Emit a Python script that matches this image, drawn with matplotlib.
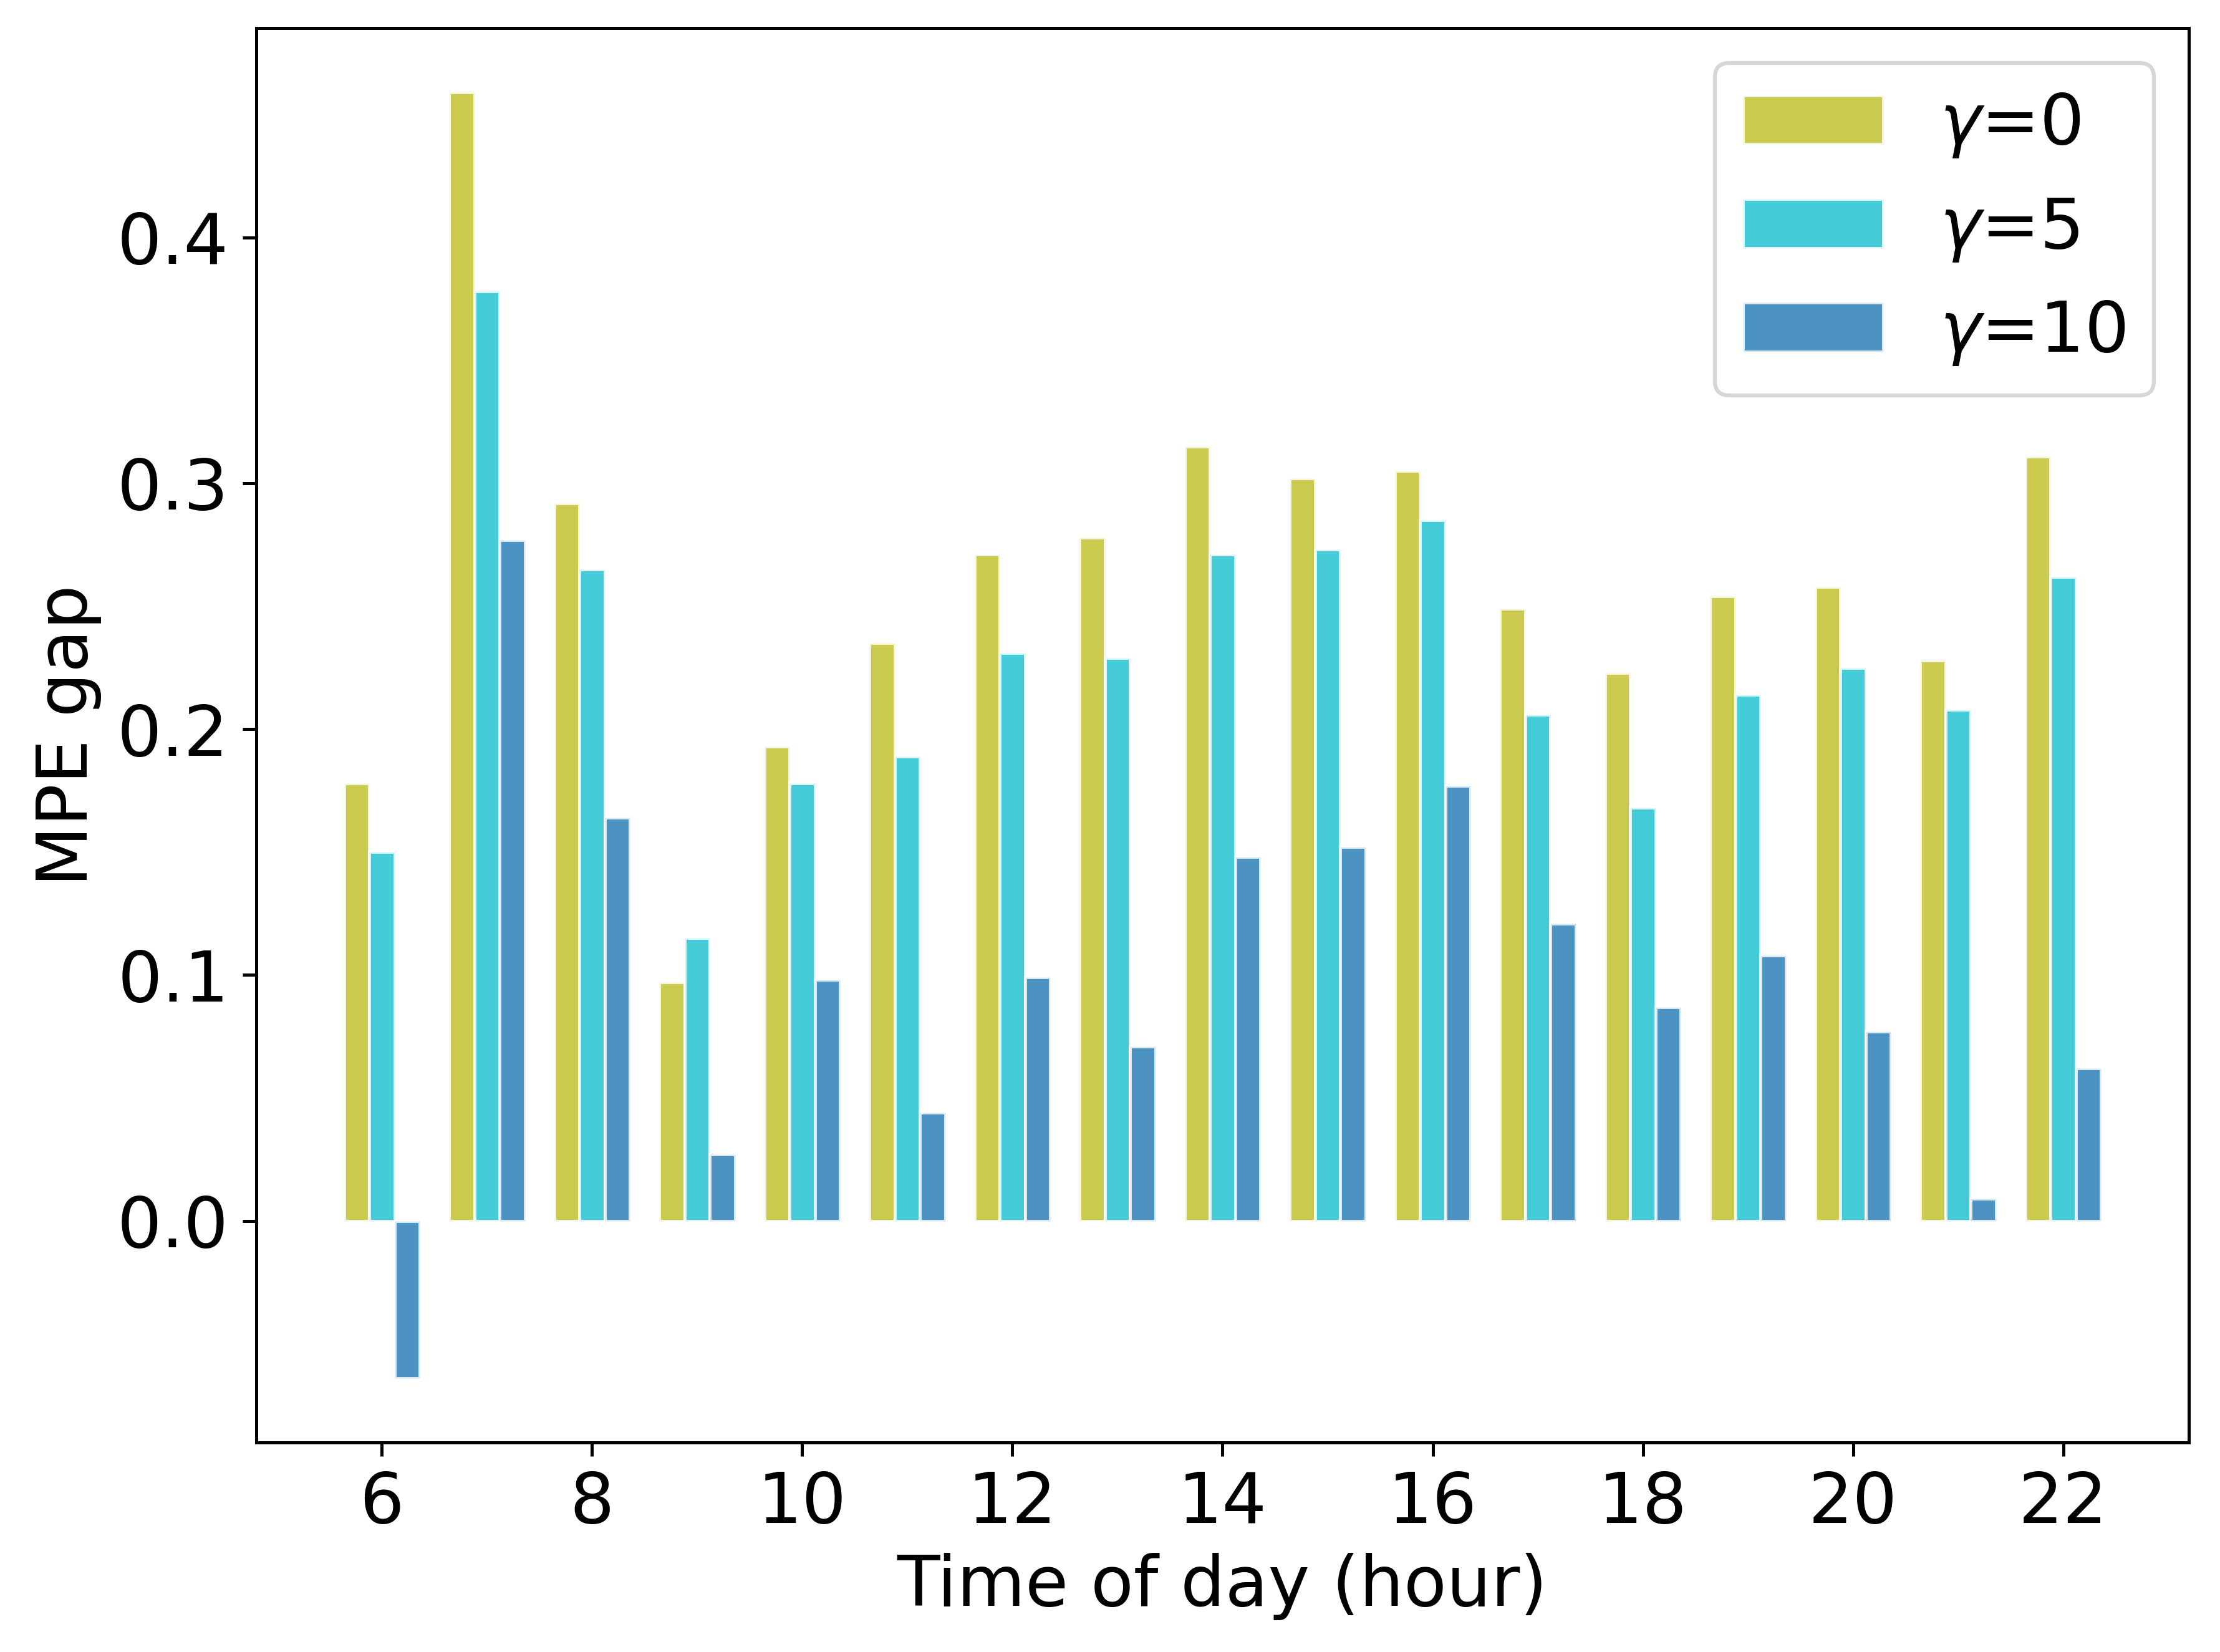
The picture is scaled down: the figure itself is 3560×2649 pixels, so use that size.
import matplotlib
matplotlib.use("Agg")
import matplotlib.pyplot as plt
import numpy as np

hours = [6, 7, 8, 9, 10, 11, 12, 13, 14, 15, 16, 17, 18, 19, 20, 21, 22]
gamma0 = [0.178, 0.459, 0.292, 0.097, 0.193, 0.235, 0.271, 0.278, 0.315, 0.302, 0.305, 0.249, 0.223, 0.254, 0.258, 0.228, 0.311]
gamma5 = [0.150, 0.378, 0.265, 0.115, 0.178, 0.189, 0.231, 0.229, 0.271, 0.273, 0.285, 0.206, 0.168, 0.214, 0.225, 0.208, 0.262]
gamma10 = [-0.064, 0.277, 0.164, 0.027, 0.098, 0.044, 0.099, 0.071, 0.148, 0.152, 0.177, 0.121, 0.087, 0.108, 0.077, 0.009, 0.062]
labels = [r"$\gamma$=0", r"$\gamma$=5", r"$\gamma$=10"]
colors = ["tab:olive", "tab:cyan", "tab:blue"]

plt.rcParams["font.size"] = 18
DPI = 450
fig = plt.figure(figsize=(3560 / DPI, 2649 / DPI), dpi=DPI)
ax = fig.add_axes([0.1154, 0.1268, 0.986 - 0.1154, 0.983 - 0.1268])

x = np.array(hours, dtype=float)
w = 0.24
for i, (vals, lab, c) in enumerate(zip([gamma0, gamma5, gamma10], labels, colors)):
    ax.bar(x + (i - 1) * w, vals, width=w, color=c, alpha=0.8, edgecolor="white",
           linewidth=0.8, label=lab)

ax.set_xticks([6, 8, 10, 12, 14, 16, 18, 20, 22])
ax.tick_params(labelsize=18)
ax.set_xlabel("Time of day (hour)", fontsize=18)
ax.set_ylabel("MPE gap", fontsize=18)
ax.legend(loc="upper right", fontsize=18)

fig.savefig("out.png", dpi=DPI)
